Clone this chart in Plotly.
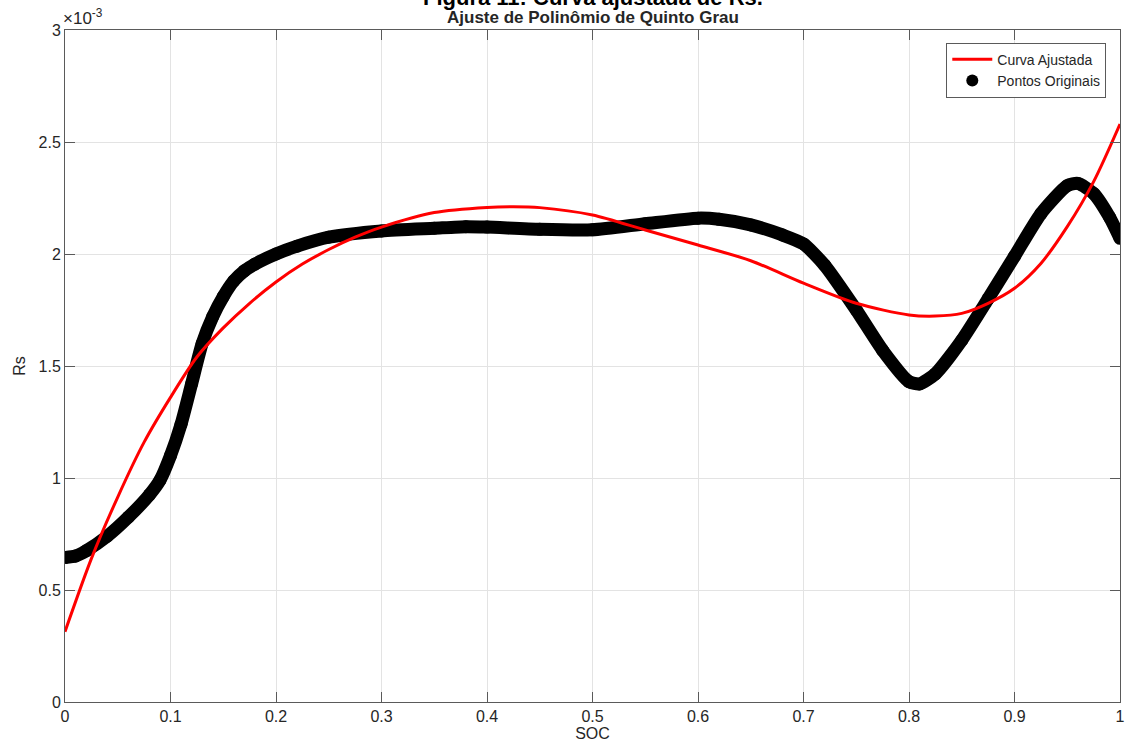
import plotly.graph_objects as go

# Original points (Rs in units of 1e-3)
soc_pts = [0, 0.01, 0.02, 0.04, 0.06, 0.08, 0.09, 0.1, 0.11, 0.12, 0.13, 0.14, 0.15, 0.16,
           0.17, 0.18, 0.2, 0.22, 0.25, 0.3, 0.35, 0.38, 0.4, 0.45, 0.5, 0.55, 0.6, 0.62,
           0.65, 0.68, 0.7, 0.72, 0.75, 0.775, 0.8, 0.81, 0.825, 0.85, 0.875, 0.9, 0.925,
           0.95, 0.96, 0.975, 0.99, 1.0]
rs_pts_e3 = [0.645, 0.652, 0.675, 0.74, 0.825, 0.925, 0.99, 1.1, 1.24, 1.42, 1.6, 1.72, 1.81, 1.88,
             1.925, 1.955, 2.0, 2.035, 2.075, 2.103, 2.115, 2.122, 2.12, 2.11, 2.108, 2.135, 2.16, 2.155,
             2.13, 2.085, 2.045, 1.95, 1.75, 1.57, 1.43, 1.42, 1.465, 1.615, 1.8, 1.99, 2.18,
             2.305, 2.315, 2.27, 2.165, 2.07]

# Fitted curve (fifth-degree polynomial)
soc_fit = [0, 0.025, 0.05, 0.075, 0.1, 0.125, 0.15, 0.175, 0.2, 0.225, 0.25, 0.275, 0.3, 0.35,
           0.4, 0.425, 0.45, 0.5, 0.55, 0.6, 0.65, 0.7, 0.75, 0.8, 0.825, 0.85, 0.875, 0.9,
           0.925, 0.95, 0.975, 1.0]
rs_fit_e3 = [0.314, 0.64, 0.915, 1.16, 1.36, 1.54, 1.67, 1.78, 1.875, 1.955, 2.02, 2.075, 2.12, 2.185,
             2.208, 2.211, 2.207, 2.174, 2.107, 2.04, 1.97, 1.87, 1.78, 1.728, 1.723, 1.735, 1.78, 1.847,
             1.958, 2.122, 2.323, 2.58]

x_ticks = [0, 0.1, 0.2, 0.3, 0.4, 0.5, 0.6, 0.7, 0.8, 0.9, 1]
x_tick_text = ["0", "0.1", "0.2", "0.3", "0.4", "0.5", "0.6", "0.7", "0.8", "0.9", "1"]
y_ticks_e3 = [0, 0.5, 1, 1.5, 2, 2.5, 3]
y_tick_text = ["0", "0.5", "1", "1.5", "2", "2.5", "3"]

scale = 1e-3
rs_pts = [v * scale for v in rs_pts_e3]
rs_fit = [v * scale for v in rs_fit_e3]
y_ticks = [v * scale for v in y_ticks_e3]

FONT = "Liberation Sans, Arial, sans-serif"
AX = "#5a5a5a"
TXT = "#262626"

fig = go.Figure()

fig.add_trace(go.Scatter(
    x=soc_pts, y=rs_pts, mode="lines+markers",
    line=dict(color="black", width=13, shape="spline", smoothing=0.6),
    marker=dict(color="black", size=13),
    showlegend=False, hoverinfo="skip"))

fig.add_trace(go.Scatter(
    x=soc_fit, y=rs_fit, mode="lines", name="Curva Ajustada",
    line=dict(color="#ff0000", width=3, shape="spline", smoothing=0.8),
    legendrank=1))

fig.add_trace(go.Scatter(
    x=[None], y=[None], mode="markers", name="Pontos Originais",
    marker=dict(color="black", size=12), legendrank=2))

axis_common = dict(
    showline=True, linecolor=AX, linewidth=1, mirror="ticks",
    ticks="inside", ticklen=10, tickcolor=AX, tickwidth=1,
    showgrid=True, gridcolor="#e3e3e3", gridwidth=1, zeroline=False,
    tickfont=dict(family=FONT, size=16, color=TXT),
)

fig.update_xaxes(range=[0, 1], tickvals=x_ticks, ticktext=x_tick_text,
                 title=dict(text="SOC", font=dict(family=FONT, size=16, color=TXT), standoff=2),
                 **axis_common)
fig.update_yaxes(range=[0, 3e-3], tickvals=y_ticks, ticktext=y_tick_text,
                 title=dict(text="Rs", font=dict(family=FONT, size=16, color=TXT), standoff=8),
                 **axis_common)

fig.update_layout(
    width=1134, height=752,
    margin=dict(l=65, r=9, t=30, b=50),
    plot_bgcolor="white", paper_bgcolor="white",
    font=dict(family=FONT, color=TXT),
    legend=dict(x=0.987, y=0.981, xanchor="right", yanchor="top",
                bgcolor="white", bordercolor=AX, borderwidth=1,
                font=dict(family=FONT, size=14, color=TXT),
                tracegroupgap=0, itemwidth=40),
    annotations=[
        dict(text="<b>Figura 11: Curva ajustada de Rs.</b>", xref="paper", yref="paper",
             x=0.5, y=1, xanchor="center", yanchor="middle", yshift=33, showarrow=False,
             font=dict(family=FONT, size=22, color="black")),
        dict(text="<b>Ajuste de Polinômio de Quinto Grau</b>", xref="paper", yref="paper",
             x=0.5, y=1, xanchor="center", yanchor="middle", yshift=13, showarrow=False,
             font=dict(family=FONT, size=17, color=TXT)),
        dict(text="×10<sup>-3</sup>", xref="paper", yref="paper",
             x=0, y=1, xanchor="left", yanchor="bottom", yshift=0, xshift=-4, showarrow=False,
             font=dict(family=FONT, size=17, color=TXT)),
    ],
)

fig.write_html("out.html")
